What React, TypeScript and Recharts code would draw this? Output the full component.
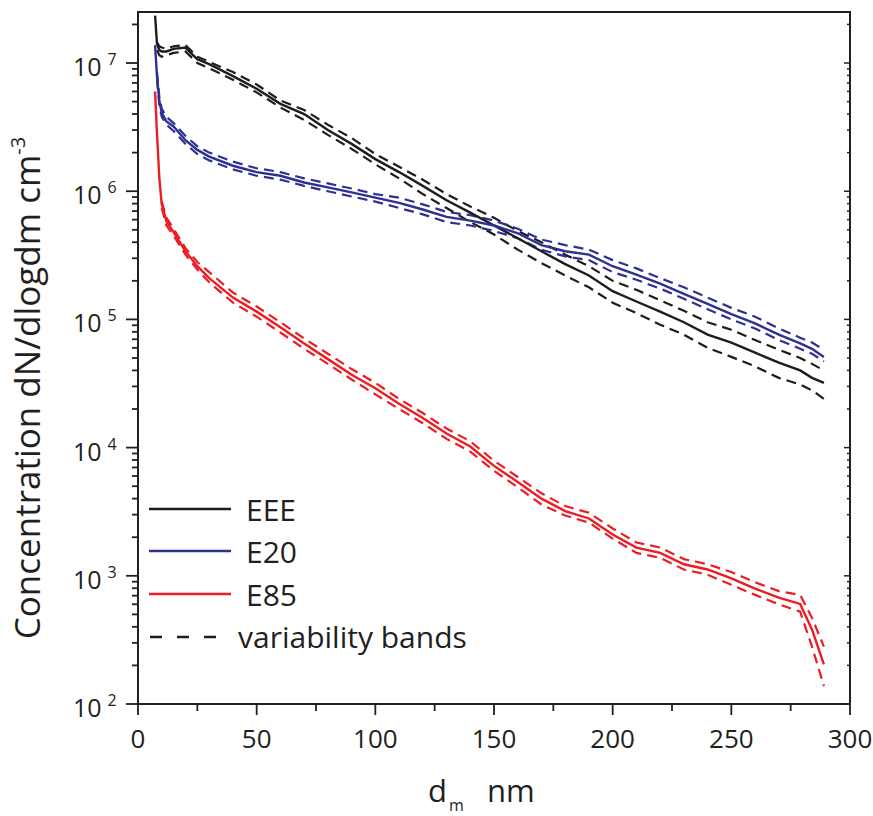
import React from "react";
import { LineChart, Line, XAxis, YAxis, ReferenceArea } from "recharts";

// particle size, nm
const sizes = [7.2, 8, 9, 10, 12, 15, 20, 25, 30, 40, 50, 60, 70, 80, 90, 100, 110, 120, 130, 140, 150, 160, 170, 180, 190, 200, 210, 220, 230, 240, 250, 260, 270, 279, 284, 289];

// dN/dlogdm, cm^-3
const eee = [2.34e7, 1.41e7, 1.26e7, 1.23e7, 1.23e7, 1.29e7, 1.32e7, 1.07e7, 9.8e6, 7.9e6, 6.3e6, 4.8e6, 4.0e6, 3.0e6, 2.34e6, 1.78e6, 1.41e6, 1.1e6, 8.5e5, 6.8e5, 5.4e5, 4.3e5, 3.4e5, 2.7e5, 2.2e5, 1.66e5, 1.38e5, 1.15e5, 9.5e4, 7.6e4, 6.6e4, 5.5e4, 4.6e4, 4.0e4, 3.5e4, 3.2e4];
const eeeHi = [null, 1.45e7, 1.35e7, 1.32e7, 1.29e7, 1.35e7, 1.38e7, 1.12e7, 1.02e7, 8.5e6, 6.8e6, 5.1e6, 4.3e6, 3.3e6, 2.6e6, 1.95e6, 1.55e6, 1.23e6, 9.5e5, 7.6e5, 6.2e5, 4.9e5, 4.0e5, 3.2e5, 2.6e5, 2.0e5, 1.7e5, 1.41e5, 1.17e5, 9.5e4, 8.3e4, 6.9e4, 5.8e4, 5.0e4, 4.5e4, 4.0e4];
const eeeLo = [null, 1.26e7, 1.15e7, 1.12e7, 1.15e7, 1.2e7, 1.23e7, 1.0e7, 9.1e6, 7.4e6, 5.9e6, 4.5e6, 3.6e6, 2.75e6, 2.14e6, 1.62e6, 1.26e6, 9.5e5, 7.4e5, 5.75e5, 4.6e5, 3.5e5, 2.75e5, 2.2e5, 1.78e5, 1.35e5, 1.12e5, 9.1e4, 7.6e4, 6.0e4, 5.1e4, 4.3e4, 3.5e4, 3.1e4, 2.8e4, 2.4e4];

const e20 = [1.38e7, 7.9e6, 5.0e6, 4.1e6, 3.5e6, 3.2e6, 2.5e6, 2.1e6, 1.86e6, 1.58e6, 1.41e6, 1.32e6, 1.17e6, 1.07e6, 9.8e5, 8.9e5, 8.1e5, 7.2e5, 6.3e5, 5.9e5, 5.4e5, 4.7e5, 3.8e5, 3.4e5, 3.2e5, 2.6e5, 2.24e5, 1.9e5, 1.58e5, 1.32e5, 1.1e5, 9.3e4, 7.6e4, 6.5e4, 5.9e4, 5.1e4];
const e20Hi = [null, 8.5e6, 5.4e6, 4.4e6, 3.8e6, 3.4e6, 2.7e6, 2.24e6, 2.0e6, 1.7e6, 1.51e6, 1.41e6, 1.26e6, 1.15e6, 1.05e6, 9.5e5, 8.9e5, 7.9e5, 6.9e5, 6.5e5, 5.9e5, 5.1e5, 4.2e5, 3.8e5, 3.5e5, 2.9e5, 2.5e5, 2.1e5, 1.78e5, 1.48e5, 1.23e5, 1.05e5, 8.5e4, 7.2e4, 6.6e4, 5.8e4];
const e20Lo = [null, 7.4e6, 4.7e6, 3.8e6, 3.3e6, 2.95e6, 2.34e6, 1.95e6, 1.74e6, 1.48e6, 1.32e6, 1.23e6, 1.1e6, 1.0e6, 9.1e5, 8.3e5, 7.4e5, 6.6e5, 5.75e5, 5.4e5, 4.9e5, 4.3e5, 3.5e5, 3.1e5, 2.9e5, 2.34e5, 2.04e5, 1.74e5, 1.45e5, 1.2e5, 1.0e5, 8.5e4, 6.9e4, 5.9e4, 5.4e4, 4.7e4];

const e85 = [6.0e6, 2.8e6, 1.26e6, 7.9e5, 5.8e5, 4.8e5, 3.4e5, 2.6e5, 2.1e5, 1.48e5, 1.15e5, 8.7e4, 6.5e4, 4.9e4, 3.7e4, 2.9e4, 2.2e4, 1.7e4, 1.29e4, 1.02e4, 7.2e3, 5.4e3, 4.0e3, 3.2e3, 2.8e3, 2.1e3, 1.66e3, 1.51e3, 1.23e3, 1.12e3, 955, 795, 676, 603, 380, 204];
const e85Hi = [null, null, null, 8.3e5, 6.2e5, 5.1e5, 3.6e5, 2.8e5, 2.34e5, 1.62e5, 1.26e5, 9.5e4, 7.1e4, 5.4e4, 4.1e4, 3.2e4, 2.4e4, 1.86e4, 1.41e4, 1.12e4, 7.9e3, 5.9e3, 4.4e3, 3.5e3, 3.1e3, 2.34e3, 1.82e3, 1.66e3, 1.35e3, 1.23e3, 1.07e3, 890, 760, 710, 470, 280];
const e85Lo = [null, null, null, 7.4e5, 5.4e5, 4.5e5, 3.2e5, 2.45e5, 1.95e5, 1.35e5, 1.05e5, 7.9e4, 5.9e4, 4.5e4, 3.4e4, 2.6e4, 2.0e4, 1.55e4, 1.17e4, 9.3e3, 6.6e3, 4.9e3, 3.6e3, 2.95e3, 2.6e3, 1.95e3, 1.51e3, 1.38e3, 1.12e3, 1.02e3, 850, 710, 600, 525, 280, 138];

const xTicks = [0, 25, 50, 75, 100, 125, 150, 175, 200, 225, 250, 275, 300];
const decades = [1e2, 1e3, 1e4, 1e5, 1e6, 1e7];
const yTicks = decades.flatMap((d) => [1, 2, 3, 4, 5, 6, 7, 8, 9].map((m) => m * d)).filter((v) => v <= 2e7);

const rows = sizes.map((dm, i) => ({
  dm,
  eee: eee[i], eeeHi: eeeHi[i], eeeLo: eeeLo[i],
  e20: e20[i], e20Hi: e20Hi[i], e20Lo: e20Lo[i],
  e85: e85[i], e85Hi: e85Hi[i], e85Lo: e85Lo[i],
}));

const W = 873;
const H = 816;
const FONT = "'Open Sans', sans-serif";
const INK = "#231f20";
const BLACK = "#1f1c1d";
const BLUE = "#2e3192";
const RED = "#ed1c24";
const DASH = "10 6";

const isMajor = (v: number) => Math.abs(Math.log10(v) - Math.round(Math.log10(v))) < 1e-6;

function LeftTick({ x, y, payload }: any) {
  const v = payload.value;
  const major = isMajor(v);
  return (
    <g>
      <line x1={x - (major ? 12 : 6)} x2={x} y1={y} y2={y} stroke={INK} strokeWidth={1.8} />
      {major && (
        <text x={x - 65} y={y + 13} fontFamily={FONT} fontSize={25} fill={INK}>
          10
          <tspan dx={6} dy={-11} fontSize={16}>{Math.round(Math.log10(v))}</tspan>
        </text>
      )}
    </g>
  );
}

function RightTick({ x, y, payload }: any) {
  const major = isMajor(payload.value);
  return <line x1={x - (major ? 6 : 3)} x2={x} y1={y} y2={y} stroke={INK} strokeWidth={1.5} />;
}

function BottomTick({ x, y, payload }: any) {
  const v = payload.value;
  const major = v % 50 === 0;
  return (
    <g>
      <line x1={x} x2={x} y1={y} y2={y + (major ? 11 : 7)} stroke={INK} strokeWidth={1.8} />
      {major && (
        <text x={x} y={y + 44} textAnchor="middle" fontFamily={FONT} fontSize={26} fill={INK}>
          {v}
        </text>
      )}
    </g>
  );
}

export default function App() {
  return (
    <div style={{ position: "absolute", left: 0, top: 0, width: W, height: H, background: "#fff" }}>
      <LineChart width={W} height={H} data={rows} margin={{ top: 12, right: 22, bottom: 0, left: 0 }}>
        <XAxis
          dataKey="dm"
          type="number"
          domain={[0, 300]}
          ticks={xTicks}
          height={112}
          tickSize={0}
          tickMargin={0}
          tickLine={false}
          tick={<BottomTick />}
          axisLine={{ stroke: INK, strokeWidth: 2 }}
          allowDataOverflow
        />
        <YAxis
          yAxisId="l"
          type="number"
          scale="log"
          domain={[100, 2.5e7]}
          ticks={yTicks}
          width={138}
          tickSize={0}
          tickMargin={0}
          tickLine={false}
          tick={<LeftTick />}
          axisLine={{ stroke: INK, strokeWidth: 2 }}
          interval={0}
          allowDataOverflow
        />
        <YAxis
          yAxisId="r"
          orientation="right"
          type="number"
          scale="log"
          domain={[100, 2.5e7]}
          ticks={yTicks}
          width={1}
          tickSize={0}
          tickMargin={0}
          tickLine={false}
          tick={<RightTick />}
          axisLine={false}
          interval={0}
          allowDataOverflow
        />
        <ReferenceArea yAxisId="l" x1={0} x2={300} y1={100} y2={2.5e7} fill="none" stroke={INK} strokeWidth={2} />

        <Line yAxisId="l" dataKey="eeeHi" stroke={BLACK} strokeWidth={2.2} strokeDasharray={DASH} dot={false} isAnimationActive={false} type="linear" />
        <Line yAxisId="l" dataKey="eeeLo" stroke={BLACK} strokeWidth={2.2} strokeDasharray={DASH} dot={false} isAnimationActive={false} type="linear" />
        <Line yAxisId="l" dataKey="e20Hi" stroke={BLUE} strokeWidth={2.2} strokeDasharray={DASH} dot={false} isAnimationActive={false} type="linear" />
        <Line yAxisId="l" dataKey="e20Lo" stroke={BLUE} strokeWidth={2.2} strokeDasharray={DASH} dot={false} isAnimationActive={false} type="linear" />
        <Line yAxisId="l" dataKey="e85Hi" stroke={RED} strokeWidth={2.2} strokeDasharray={DASH} dot={false} isAnimationActive={false} type="linear" />
        <Line yAxisId="l" dataKey="e85Lo" stroke={RED} strokeWidth={2.2} strokeDasharray={DASH} dot={false} isAnimationActive={false} type="linear" />
        <Line yAxisId="l" dataKey="eee" stroke={BLACK} strokeWidth={2.4} dot={false} isAnimationActive={false} type="linear" />
        <Line yAxisId="l" dataKey="e20" stroke={BLUE} strokeWidth={2.4} dot={false} isAnimationActive={false} type="linear" />
        <Line yAxisId="l" dataKey="e85" stroke={RED} strokeWidth={2.4} dot={false} isAnimationActive={false} type="linear" />
      </LineChart>

      <svg width={W} height={H} style={{ position: "absolute", left: 0, top: 0, pointerEvents: "none" }}>
        {/* legend */}
        <line x1={149} x2={231} y1={509} y2={509} stroke={BLACK} strokeWidth={2.4} />
        <line x1={149} x2={231} y1={551} y2={551} stroke={BLUE} strokeWidth={2.4} />
        <line x1={149} x2={231} y1={594} y2={594} stroke={RED} strokeWidth={2.4} />
        <line x1={150} x2={226} y1={637} y2={637} stroke={BLACK} strokeWidth={2.4} strokeDasharray="12 15" />
        <g fontFamily={FONT} fontSize={30} fill={INK}>
          <text x={246} y={521}>EEE</text>
          <text x={246} y={563}>E20</text>
          <text x={246} y={606}>E85</text>
          <text x={238} y={648}>variability bands</text>
        </g>

        {/* axis titles */}
        <text transform="translate(40,388) rotate(-90)" textAnchor="middle" fontFamily={FONT} fontSize={35} fill={INK}>
          Concentration dN/dlogdm cm
          <tspan dy={-15} fontSize={20}>-3</tspan>
        </text>
        <text x={428} y={802} fontFamily={FONT} fontSize={31} fill={INK}>
          d
          <tspan x={449} dy={9} fontSize={16}>m</tspan>
          <tspan x={487} dy={-9}>nm</tspan>
        </text>
      </svg>
    </div>
  );
}
